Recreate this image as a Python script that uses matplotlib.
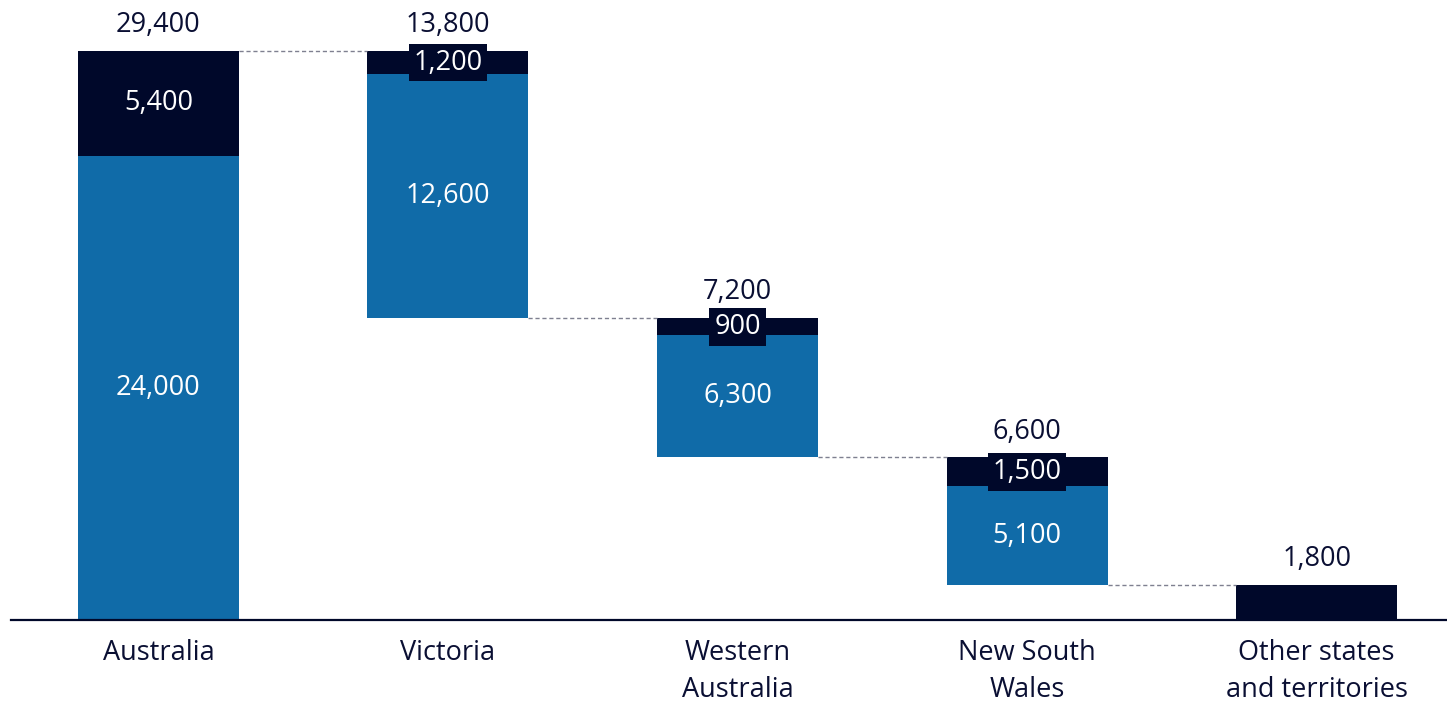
import matplotlib.pyplot as plt
import numpy as np

# data
categories = ['Australia', 'Victoria', 'Western\nAustralia', 'New South\nWales',
              'Other states\nand territories']
blue_vals = [24000, 12600, 6300, 5100, 0]
dark_vals = [5400, 1200, 900, 1500, 1800]

NAVY = '#00082A'
BLUE = '#106BA8'
TXT = '#0A0F33'

plt.rcParams['font.family'] = ['Open Sans', 'DejaVu Sans']

totals = [b + d for b, d in zip(blue_vals, dark_vals)]
bottoms = [0]
level = totals[0]
for t in totals[1:]:
    level = level - t
    bottoms.append(level)

x = np.arange(len(categories))
w = 0.556

fig = plt.figure(figsize=(14.47, 7.04), dpi=100)
ax = fig.add_axes([11 / 1447, 84 / 704, 1 - 11 / 1447, 620 / 704])

ax.bar(x, blue_vals, w, bottom=bottoms, color=BLUE, linewidth=0)
dark_bottom = [b + v for b, v in zip(bottoms, blue_vals)]
ax.bar(x, dark_vals, w, bottom=dark_bottom, color=NAVY, linewidth=0)

# dashed connectors between bars
for i in range(len(x) - 1):
    lvl = bottoms[i + 1] + totals[i + 1]
    ax.plot([x[i] + w / 2, x[i + 1] - w / 2], [lvl, lvl], ls=(0, (3, 2)),
            color='#7F8090', lw=1)

fs = 19.5
for i in range(len(x)):
    top = bottoms[i] + totals[i]
    ax.annotate(f'{totals[i]:,}', (x[i], top), xytext=(0, 18.5),
                textcoords='offset points', ha='center', va='center',
                fontsize=fs, color=TXT)
    if blue_vals[i] > 0:
        ax.text(x[i], bottoms[i] + blue_vals[i] / 2, f'{blue_vals[i]:,}',
                ha='center', va='center', fontsize=fs, color='white')
        ym = dark_bottom[i] + dark_vals[i] / 2
        box = None
        if dark_vals[i] < 3000:
            box = dict(boxstyle='square,pad=0.18', fc=NAVY, ec='none')
        ax.text(x[i], ym, f'{dark_vals[i]:,}', ha='center', va='center',
                fontsize=fs, color='white', bbox=box)

ax.set_xlim(-0.509, 4.45)
ax.set_ylim(0, 32035)
ax.set_xticks(x)
ax.set_xticklabels(categories, fontsize=fs, color=TXT, linespacing=1.4)
ax.tick_params(axis='x', length=0, pad=14)
ax.set_yticks([])
for s in ['top', 'right', 'left']:
    ax.spines[s].set_visible(False)
ax.spines['bottom'].set_color(NAVY)
ax.spines['bottom'].set_linewidth(1.6)

fig.savefig('out.png', dpi=100)
